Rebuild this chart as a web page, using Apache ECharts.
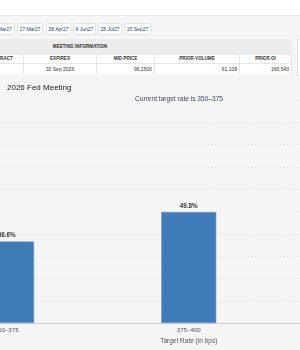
<!DOCTYPE html>
<html>
<head>
<meta charset="utf-8">
<script src="https://cdn.jsdelivr.net/npm/echarts@6/dist/echarts.min.js"></script>
<style>
    html, body { margin: 0; padding: 0; }
    body {
        width: 300px; height: 350px; overflow: hidden; position: relative;
        background: #f5f5f5; font-family: "Liberation Sans", Arial, sans-serif;
    }
    .top { position: absolute; left: 0; top: 0; width: 300px; height: 15px; background: #fff; border-bottom: 1px solid #e6e6e6; }
    .tab {
        position: absolute; top: 23px; height: 10px; line-height: 10px;
        background: #fff; border: 1px solid #e2e2e2; border-radius: 2px;
        font-size: 5px; color: #2c3e6b; text-align: center; box-sizing: content-box;
    }
    .tbl { position: absolute; left: 0; top: 39px; width: 292px; height: 35px; }
    .row { position: absolute; left: 0; width: 292px; }
    .cell {
        position: absolute; top: 0; height: 100%; box-sizing: border-box;
        border-right: 1px solid #e6e6e6; font-size: 4.6px; color: #333;
        white-space: nowrap; overflow: hidden;
    }
    .hd { font-weight: bold; text-align: center; }
    .num { text-align: right; padding-right: 2px; }
    /* the chart is wider than the window: only its middle part is visible */
    #chart { position: absolute; left: -85px; top: 76px; width: 547px; height: 274px; }
</style>
</head>
<body>
<div class="top"></div>
<div id="tabs"></div>
<div class="tbl" id="tbl"></div>
<div style="position:absolute;left:297px;top:39px;width:10px;height:35px;background:#fff;border:1px solid #e2e2e2;"></div>
<div id="chart"></div>
<script>
    // meeting tabs (left, right edges in px)
    const tabLabels = ["Mar27", "17 Mar27", "28 Apr27", "9 Jun27", "28 Jul27", "15 Sep27"];
    const tabEdges = [[-16, 15], [17, 43], [46, 71], [73, 96], [98, 122], [124, 151]];

    // meeting information table
    const colEdges = [[-23, 24], [24, 97], [97, 155], [155, 240], [240, 292]];
    const colHeads = ["CONTRACT", "EXPIRES", "MID PRICE", "PRIOR VOLUME", "PRIOR OI"];
    const rowValues = ["", "30 Sep 2026", "96.2500", "61,109", "166,543"];

    // probabilities
    const categories = ["350–375", "375–400", "400–425"];
    const probs = [36.6, 49.8, null];

    let tabsHtml = "";
    tabLabels.forEach((t, i) => {
        let l = tabEdges[i][0], w = tabEdges[i][1] - l - 2;
        let extra = i === 0 ? "text-align:right;padding-right:2px;width:" + (w - 2) + "px;" : "width:" + w + "px;";
        tabsHtml += '<div class="tab" style="left:' + l + "px;" + extra + '">' + t + "</div>";
    });
    document.getElementById("tabs").innerHTML = tabsHtml;

    let tbl = '<div class="row" style="top:0;height:16px;background:#ececec;border-bottom:1px solid #e0e0e0;">' +
        '<div class="cell hd" style="left:0;width:160px;line-height:16px;border:none;">MEETING INFORMATION</div></div>';
    tbl += '<div class="row" style="top:16px;height:8px;background:#fff;border-bottom:1px solid #e6e6e6;">';
    colHeads.forEach((h, i) => {
        let l = colEdges[i][0], w = colEdges[i][1] - l;
        tbl += '<div class="cell hd" style="left:' + l + "px;width:" + w + 'px;line-height:8px;">' + h + "</div>";
    });
    tbl += "</div>";
    tbl += '<div class="row" style="top:25px;height:10px;background:#fff;">';
    rowValues.forEach((v, i) => {
        let l = colEdges[i][0], w = colEdges[i][1] - l;
        let cls = i >= 2 ? "cell num" : "cell hd";
        tbl += '<div class="' + cls + '" style="font-weight:normal;font-size:5px;left:' + l + "px;width:" + w + 'px;line-height:10px;">' + v + "</div>";
    });
    tbl += "</div>";
    document.getElementById("tbl").innerHTML = tbl;

    const offsetX = 85; // chart div starts 85px left of the window

    const chart = echarts.init(document.getElementById("chart"));
    chart.setOption({
        animation: false,
        backgroundColor: "#f5f5f5",
        textStyle: { fontFamily: "Liberation Sans, Arial, sans-serif" },
        title: [
            {
                text: "2026 Fed Meeting",
                left: offsetX + 2,
                top: 3,
                textStyle: { fontSize: 8, fontWeight: "normal", color: "#222" }
            },
            {
                text: "Current target rate is 350–375",
                left: offsetX + 174,
                textAlign: "center",
                top: 15,
                textStyle: { fontSize: 6.6, fontWeight: "normal", color: "#3d4a6b" }
            }
        ],
        grid: { left: 0.5, right: 0, top: 24, bottom: 23 },
        xAxis: {
            type: "category",
            data: categories,
            name: "Target Rate (in bps)",
            nameLocation: "middle",
            nameGap: 13,
            nameTextStyle: { fontSize: 6.5, color: "#555" },
            axisLine: { lineStyle: { color: "#cfcfcf" } },
            axisTick: { alignWithLabel: true, length: 2, lineStyle: { color: "#cfcfcf" } },
            axisLabel: { fontSize: 6.2, color: "#555", margin: 4 }
        },
        yAxis: {
            type: "value",
            min: 0,
            max: 100,
            interval: 10,
            axisLabel: { show: false },
            axisLine: { show: false },
            axisTick: { show: false },
            splitLine: { lineStyle: { color: "#d3d3d3", type: [1, 3] } }
        },
        series: [
            {
                type: "bar",
                data: probs,
                barWidth: 55,
                itemStyle: { color: "#3f7bb6", borderColor: "#6d9acb", borderWidth: 0.6 },
                label: {
                    show: true,
                    position: "top",
                    distance: 3,
                    formatter: "{c}%",
                    fontSize: 6.3,
                    fontWeight: "bold",
                    color: "#333"
                }
            }
        ]
    });
</script>
</body>
</html>
